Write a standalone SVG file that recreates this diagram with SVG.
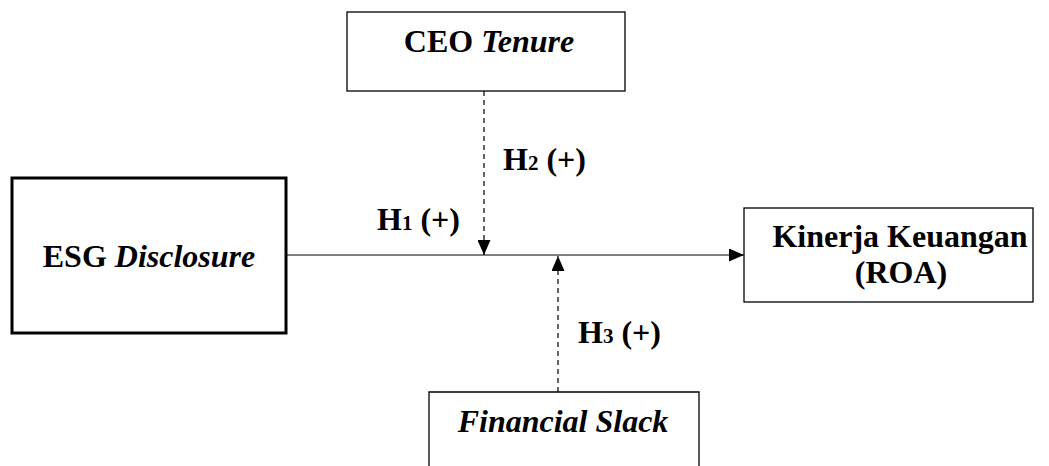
<svg xmlns="http://www.w3.org/2000/svg" width="1049" height="466" viewBox="0 0 1049 466">
<style>
.box{fill:#fff;stroke:#000;stroke-width:1.3}
.t{font-family:"Liberation Serif","Times New Roman",serif;font-weight:bold;font-size:32px;fill:#000}
.i{font-style:italic}
.c{stroke:#000;stroke-width:1.2;fill:none}
.d{stroke-dasharray:5,4}
</style>
<defs>
<marker id="ah" viewBox="0 0 15 13" refX="15" refY="6.5" markerWidth="15" markerHeight="13" markerUnits="userSpaceOnUse" orient="auto">
<path d="M0,0 L15,6.5 L0,13 Z" fill="#000"/>
</marker>
</defs>
<g id="connectors">
<line class="c" x1="286" y1="255" x2="744" y2="255" marker-end="url(#ah)"/>
<line class="c d" x1="484" y1="91" x2="484" y2="255" marker-end="url(#ah)"/>
<line class="c d" x1="558" y1="392" x2="558" y2="256" marker-end="url(#ah)"/>
<text class="t" x="377" y="230">H<tspan font-size="21">1</tspan> (+)</text>
<text class="t" x="503" y="170">H<tspan font-size="21">2</tspan> (+)</text>
<text class="t" x="578" y="343">H<tspan font-size="21">3</tspan> (+)</text>
</g>
<g id="esg">
<rect x="12" y="178" width="274" height="155" fill="#fff" stroke="#000" stroke-width="3"/>
<text class="t" x="149" y="267" text-anchor="middle">ESG <tspan class="i">Disclosure</tspan></text>
</g>
<g id="ceo">
<rect class="box" x="347" y="12" width="278" height="79"/>
<text class="t" x="489" y="52" text-anchor="middle">CEO <tspan class="i">Tenure</tspan></text>
</g>
<g id="kinerja">
<rect class="box" x="744" y="208" width="289" height="94"/>
<text class="t" x="900" y="247" text-anchor="middle">Kinerja Keuangan</text>
<text class="t" x="901" y="283" text-anchor="middle">(ROA)</text>
</g>
<g id="slack">
<path class="box" d="M429,466 L429,392 L699,392 L699,466"/>
<text class="t i" x="563" y="432" text-anchor="middle">Financial Slack</text>
</g>
</svg>
